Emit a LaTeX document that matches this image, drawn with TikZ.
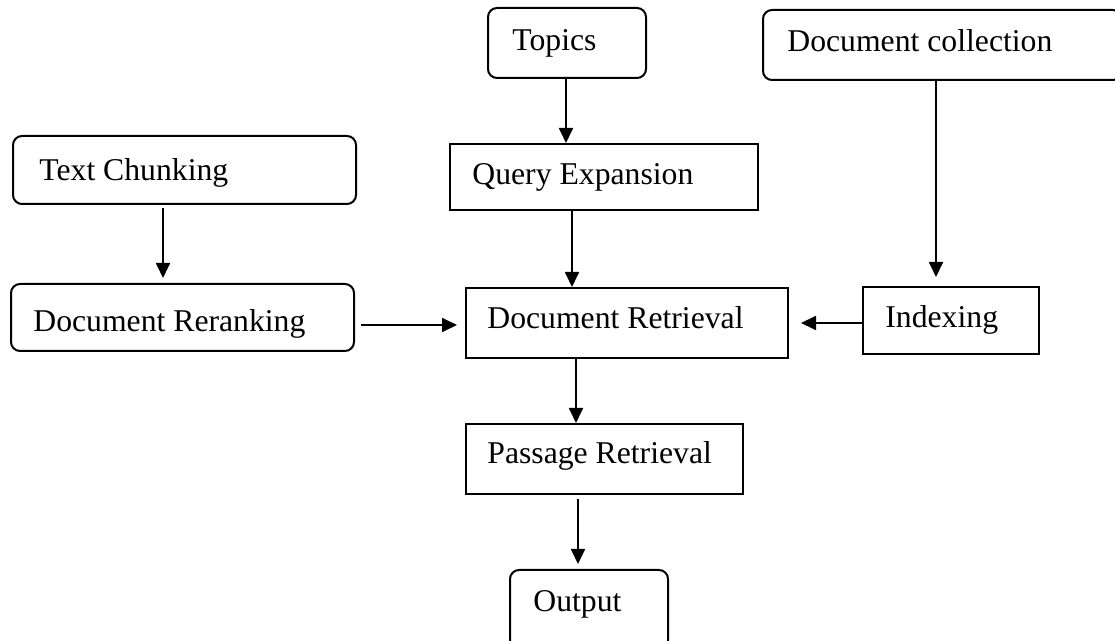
\documentclass[tikz,border=0pt]{standalone}
\usepackage{fontspec}
\setmainfont{Liberation Serif}
\usetikzlibrary{fit,arrows.meta}
\tikzset{
  box/.style={draw, line width=1pt, inner sep=0pt},
  rbox/.style={box, rounded corners=4.5pt},
  txt/.style={anchor=base west, inner sep=0pt, font=\fontsize{15.85}{19}\selectfont},
  arr/.style={line width=0.9pt, -{Triangle[length=7.5pt,width=7pt]}}
}
\begin{document}
\begin{tikzpicture}[x=0.5pt,y=-0.5pt]
\useasboundingbox (0,0) rectangle (1115,641);
% boxes
\node[rbox, fit={(488,8) (646,78)}] (topics) {};
\node[rbox, fit={(763,10) (1122,80)}] (coll) {};
\node[rbox, fit={(13,136) (356,204)}] (chunk) {};
\node[box, fit={(450,144) (758,210)}] (qexp) {};
\node[rbox, fit={(11,284) (354,351)}] (rerank) {};
\node[box, fit={(466,288) (788,358)}] (dret) {};
\node[box, fit={(863,287) (1039,354)}] (index) {};
\node[box, fit={(466,424) (743,494)}] (pret) {};
\node[rbox, fit={(510,570) (668,655)}] (out) {};
% texts
\node[txt] (topicsT) at (512,51) {Topics};
\node[txt] (collT) at (787,52) {Document collection};
\node[txt] (chunkT) at (39,181) {Text Chunking};
\node[txt] (qexpT) at (472,185) {Query Expansion};
\node[txt] (rerankT) at (33,332) {Document Reranking};
\node[txt] (dretT) at (487,329) {Document Retrieval};
\node[txt] (indexT) at (885,328) {Indexing};
\node[txt] (pretT) at (487,464) {Passage Retrieval};
\node[txt] (outT) at (533,612) {Output};
% connectors
\coordinate (xa) at (566,0);
\coordinate (xb) at (572,0);
\coordinate (xc) at (936,0);
\coordinate (xd) at (163,0);
\coordinate (xe) at (576,0);
\coordinate (xf) at (578,0);
\coordinate (ya) at (0,325);
\coordinate (yb) at (0,323);
\draw[arr] (topics.south -| xa) -- (qexp.north -| xa);
\draw[arr] (qexp.south -| xb) -- (dret.north -| xb);
\draw[arr, shorten >=4.5pt] (coll.south -| xc) -- (index.north -| xc);
\draw[arr, shorten <=1.5pt, shorten >=2.5pt] (chunk.south -| xd) -- (rerank.north -| xd);
\draw[arr, shorten <=3pt, shorten >=4pt] (rerank.east |- ya) -- (dret.west |- ya);
\draw[arr, shorten >=6pt] (index.west |- yb) -- (dret.east |- yb);
\draw[arr] (dret.south -| xe) -- (pret.north -| xe);
\draw[arr, shorten <=2pt, shorten >=2.5pt] (pret.south -| xf) -- (out.north -| xf);
\end{tikzpicture}
\end{document}
